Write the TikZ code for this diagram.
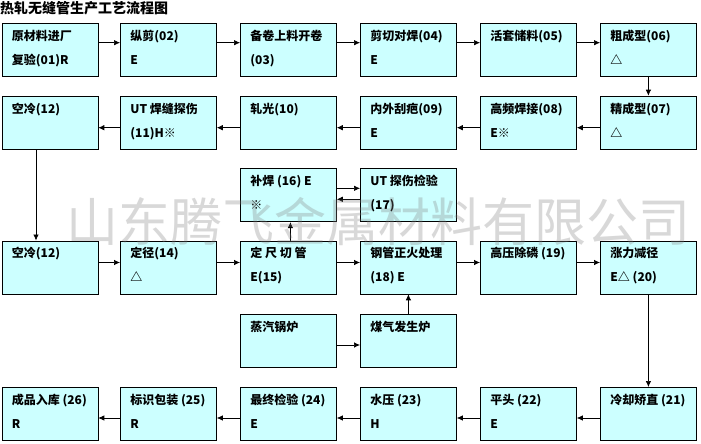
\documentclass[tikz,border=0pt]{standalone}
\usepackage{fontspec}
\setmainfont{Noto Sans CJK SC}
\usetikzlibrary{arrows.meta,calc}
\definecolor{BoxCyan}{HTML}{CCFFFF}
\newcommand{\boxtxt}[1]{\parbox[t][53pt][t]{96pt}{\leftskip=10pt\rule{0pt}{17pt}#1}}

\begin{document}
\begin{tikzpicture}[x=1pt,y=-1pt,
	proc/.style={draw=black, fill=BoxCyan, line width=0.8pt, inner sep=0pt, anchor=north west,
		font=\fontsize{12}{24}\selectfont\bfseries},
	flow/.style={-{Latex[length=6pt,width=5.5pt]}, line width=0.7pt},
	watermark/.style={text=gray, text opacity=0.3, font=\fontsize{52}{52}\selectfont}]
	\useasboundingbox (0,0) rectangle (701,444);
	\fill[white] (0,0) rectangle (701,444);
	\node[anchor=north west, inner sep=0pt, font=\fontsize{14}{14}\selectfont\bfseries] (title) at (0,1) {热轧无缝管生产工艺流程图};
	
	% row 1
	\node[proc] (s01) at (1.5,22.7) {\boxtxt{原材料进厂\\复验(01)R}};
	\node[proc] (s02) at (120,22.7) {\boxtxt{纵剪(02)\\E}};
	\node[proc] (s03) at (240,22.7) {\boxtxt{备卷上料开卷\\(03)}};
	\node[proc] (s04) at (360,22.7) {\boxtxt{剪切对焊(04)\\E}};
	\node[proc] (s05) at (480,22.7) {\boxtxt{活套储料(05)}};
	\node[proc] (s06) at (600,22.7) {\boxtxt{粗成型(06)\\△}};
	
	% row 2
	\node[proc] (s07) at (600,95.7) {\boxtxt{精成型(07)\\△}};
	\node[proc] (s08) at (480,95.7) {\boxtxt{高频焊接(08)\\E※}};
	\node[proc] (s09) at (360,95.7) {\boxtxt{内外刮疤(09)\\E}};
	\node[proc] (s10) at (240,95.7) {\boxtxt{轧光(10)}};
	\node[proc] (s11) at (120,95.7) {\boxtxt{UT 焊缝探伤\\(11)H※}};
	\node[proc] (s12) at (1.5,95.7) {\boxtxt{空冷(12)}};
	
	% row 3
	\node[proc] (s16) at (240,168.3) {\boxtxt{补焊 (16) E\\※}};
	\node[proc] (s17) at (360,168.3) {\boxtxt{UT 探伤检验\\(17)}};
	
	% row 4
	\node[proc] (s12b) at (1.5,240.5) {\boxtxt{空冷(12)}};
	\node[proc] (s14) at (120,240.5) {\boxtxt{定径(14)\\△}};
	\node[proc] (s15) at (240,240.5) {\boxtxt{定 尺 切 管\\E(15)}};
	\node[proc] (s18) at (360,240.5) {\boxtxt{钢管正火处理\\(18) E}};
	\node[proc] (s19) at (480,240.5) {\boxtxt{高压除磷 (19)}};
	\node[proc] (s20) at (600,240.5) {\boxtxt{涨力减径\\E△ (20)}};
	
	% row 5
	\node[proc] (steam) at (240,314) {\boxtxt{蒸汽锅炉}};
	\node[proc] (gas) at (360,314) {\boxtxt{煤气发生炉}};
	
	% row 6
	\node[proc] (s21) at (600,387) {\boxtxt{冷却矫直 (21)}};
	\node[proc] (s22) at (480,387) {\boxtxt{平头 (22)\\E}};
	\node[proc] (s23) at (360,387) {\boxtxt{水压 (23)\\H}};
	\node[proc] (s24) at (240,387) {\boxtxt{最终检验 (24)\\E}};
	\node[proc] (s25) at (120,387) {\boxtxt{标识包装 (25)\\R}};
	\node[proc] (s26) at (1.5,387) {\boxtxt{成品入库 (26)\\R}};
	
	\foreach \a/\b in {s01/s02,s02/s03,s03/s04,s04/s05,s05/s06}
		\draw[flow] ([yshift=-20pt]\a.north east) -- ([yshift=-20pt]\b.north west);
	\foreach \a/\b in {s07/s08,s08/s09,s09/s10,s10/s11,s11/s12}
		\draw[flow] ([yshift=-32pt]\a.north west) -- ([yshift=-32pt]\b.north east);
	\foreach \a/\b in {s12b/s14,s14/s15,s15/s18,s18/s19,s19/s20}
		\draw[flow] ([yshift=-22pt]\a.north east) -- ([yshift=-22pt]\b.north west);
	\foreach \a/\b in {s21/s22,s22/s23,s23/s24,s24/s25,s25/s26}
		\draw[flow] ([yshift=-31pt]\a.north west) -- ([yshift=-31pt]\b.north east);
	
	\draw[flow] ([yshift=-20pt]s16.north east) -- ([yshift=-20pt]s17.north west);
	\draw[flow] ([yshift=-31pt]s17.north west) -- ([yshift=-31pt]s16.north east);
	\draw[flow] ([yshift=-31pt]steam.north east) -- ([yshift=-31pt]gas.north west);
	
	\draw[flow] (s06.south) -- (s07.north);
	\draw[flow] ([xshift=34.5pt]s12.south west) -- ([xshift=34.5pt]s12b.north west);
	\draw[flow] ([xshift=2pt]s15.north) -- ([xshift=2pt]s16.south);
	\draw[flow] (gas.north) -- (s18.south);
	\draw[flow] (s20.south) -- (s21.north);
	
	% watermark
	\node[watermark] (wm) at (378,222) {山东腾飞金属材料有限公司};
\end{tikzpicture}
\end{document}
